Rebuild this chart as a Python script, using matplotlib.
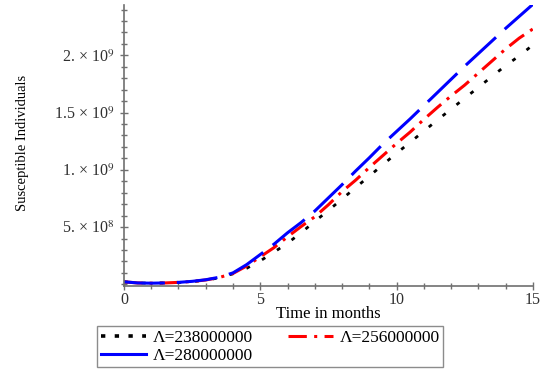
import numpy as np
import matplotlib
matplotlib.use("Agg")
import matplotlib.pyplot as plt
from matplotlib.lines import Line2D
from matplotlib.ticker import FixedLocator, MultipleLocator

plt.rcParams['font.family'] = ['Liberation Serif', 'DejaVu Serif']
plt.rcParams['mathtext.fontset'] = 'stix'

# time in months (units of 1e8 individuals)
t = np.arange(0, 15.01, 0.5)
s_238 = [0.22, 0.12, 0.10, 0.12, 0.16, 0.24, 0.36, 0.57, 0.92, 1.40, 2.05,
         2.80, 3.60, 4.50, 5.50, 6.45, 7.45, 8.45, 9.45, 10.45, 11.45,
         12.40, 13.38, 14.35, 15.30, 16.25, 17.20, 18.15, 19.10, 19.95, 20.90]
s_256 = [0.22, 0.12, 0.10, 0.12, 0.17, 0.25, 0.38, 0.60, 0.95, 1.60, 2.40,
         3.20, 4.15, 5.05, 5.90, 6.95, 8.10, 9.10, 10.20, 11.25, 12.30,
         13.30, 14.40, 15.45, 16.45, 17.40, 18.45, 19.50, 20.55, 21.50, 22.30]
s_280 = [0.22, 0.12, 0.10, 0.12, 0.17, 0.26, 0.40, 0.62, 1.00, 1.72, 2.60,
         3.50, 4.50, 5.40, 6.40, 7.55, 8.70, 9.90, 11.05, 12.25, 13.35,
         14.45, 15.60, 16.75, 17.90, 19.05, 20.15, 21.25, 22.35, 23.40, 24.45]

labels = ["\u039b=238000000", "\u039b=256000000", "\u039b=280000000"]
yticks = [5e8, 1e9, 1.5e9, 2e9]
ytick_labels = ["5. \u00d7 10$^{8}$", "1. \u00d7 10$^{9}$",
                "1.5 \u00d7 10$^{9}$", "2. \u00d7 10$^{9}$"]
xticks = [0, 5, 10, 15]

fig = plt.figure(figsize=(5.55, 3.71), dpi=100)
ax = fig.add_axes([0.2234, 0.229, 0.7366, 0.7576])

ax.plot(t, np.array(s_238) * 1e8, color='black', lw=2.0,
        linestyle=(0, (1.4, 5.0)), dash_capstyle='butt')
ax.plot(t, np.array(s_256) * 1e8, color='red', lw=2.2,
        linestyle=(0, (6.0, 2.4, 1.0, 2.4)), dash_capstyle='butt')
ax.plot(t, np.array(s_280) * 1e8, color='blue', lw=2.2,
        linestyle=(0, (13.4, 3.9)), dash_capstyle='butt')

ax.set_xlim(0, 15)
ax.set_ylim(-0.15e8, 24.4e8)

for side in ['top', 'right']:
    ax.spines[side].set_visible(False)
for side in ['left', 'bottom']:
    ax.spines[side].set_color('#707070')
    ax.spines[side].set_linewidth(1.2)

ax.xaxis.set_major_locator(FixedLocator(xticks))
ax.xaxis.set_minor_locator(MultipleLocator(1))
ax.yaxis.set_major_locator(FixedLocator(yticks))
ax.yaxis.set_minor_locator(MultipleLocator(1e8))
ax.set_yticklabels(ytick_labels)
ax.set_xticklabels([str(v) for v in xticks])

ax.tick_params(axis='both', which='both', direction='inout', color='#707070',
               width=1.0, labelsize=11.5, labelcolor='#303030')
ax.tick_params(axis='both', which='major', length=6)
ax.tick_params(axis='both', which='minor', length=5)
ax.tick_params(axis='y', pad=4)
ax.tick_params(axis='x', pad=1)

ax.set_xlabel("Time in months", fontsize=12)
ax.set_ylabel("Susceptible Individuals", fontsize=10.5)
ax.xaxis.set_label_coords(0.5, -0.072)
ax.yaxis.set_label_coords(-0.232, 0.51)

# legend filled column-wise: black, blue | red
handles = [
    Line2D([], [], color='black', lw=2.6, linestyle=(0, (1.2, 2.6))),
    Line2D([], [], color='blue', lw=2.2),
    Line2D([], [], color='red', lw=2.2, linestyle=(0, (6.0, 2.4, 1.0, 2.4))),
]
leg_labels = [labels[0], labels[2], labels[1]]
leg = fig.legend(handles, leg_labels, ncol=2, loc='upper left',
                 bbox_to_anchor=(0.175, 0.121), fontsize=12.5,
                 frameon=True, fancybox=False, edgecolor='#707070',
                 handlelength=2.6, handletextpad=0.4, columnspacing=2.0,
                 borderpad=0.2, labelspacing=0.1, borderaxespad=0)
leg.get_frame().set_linewidth(1.0)

fig.savefig("out.png", dpi=100)
